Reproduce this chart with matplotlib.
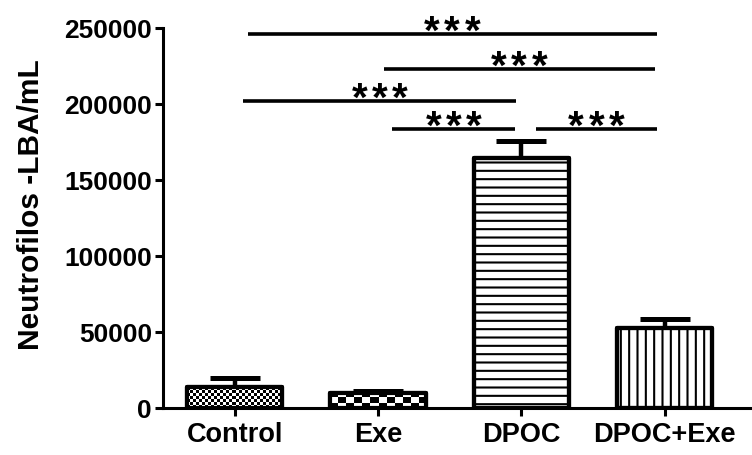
import numpy as np
import matplotlib
matplotlib.use("Agg")
import matplotlib.pyplot as plt

categories = ["Control", "Exe", "DPOC", "DPOC+Exe"]
means = [13500, 10000, 164500, 52500]
errors = [6000, 1500, 11000, 6000]
yticks = [0, 50000, 100000, 150000, 200000, 250000]
ylabel = "Neutrofilos -LBA/mL"

# significance brackets: (start group, end group, height, label)
sig_start = [0.09, 1.04, 0.06, 1.10, 2.10]
sig_end = [2.945, 2.93, 1.96, 1.955, 2.945]
sig_y = [246000, 223000, 202000, 183500, 183500]
sig_label = ["***", "***", "***", "***", "***"]

plt.rcParams['font.family'] = ['Liberation Sans', 'DejaVu Sans']
plt.rcParams['font.weight'] = 'bold'
plt.rcParams['hatch.linewidth'] = 1.5

fig = plt.figure(figsize=(7.52, 4.55), dpi=100)
ax = fig.add_axes([163/752, 1 - 408/455, (750-163)/752, (408-28)/455])
ax.set_xlim(-0.50, 3.595)
ax.set_ylim(0, 250000)

x = np.arange(len(categories))
width = 0.665

# error bars (behind bars, only upward)
ax.errorbar(x, means, yerr=[np.zeros(len(means)), errors], fmt='none',
            ecolor='black', elinewidth=3.2, capsize=18, capthick=3.6, zorder=1)

hatches = [None, None, '--', '||']
bars = ax.bar(x, means, width=width, color='white', edgecolor='black',
              linewidth=3, zorder=2)
for b, h in zip(bars, hatches):
    b.set_joinstyle('round')
    if h:
        b.set_hatch(h)

fig.canvas.draw()

def pattern_fill(bar, cell_w, cell_h):
    x0, y0 = bar.get_x(), 0
    x1, y1 = bar.get_x() + bar.get_width(), bar.get_height()
    (px0, py0), (px1, py1) = ax.transData.transform([(x0, y0), (x1, y1)])
    W = int(round(px1 - px0)); H = int(round(py1 - py0))
    jj, ii = np.meshgrid(np.arange(W), np.arange(H))  # ii from bottom
    arr = ((jj // cell_w + ii // cell_h) % 2).astype(float)
    arr = arr[::-1]  # top row first
    im = ax.imshow(arr, cmap='gray', vmin=0, vmax=1, extent=(x0, x1, y0, y1),
                   interpolation='nearest', aspect='auto', zorder=2.5)
    im.set_clip_path(bar)

pattern_fill(bars[0], 3, 3)
pattern_fill(bars[1], 8, 5)

# re-draw outlines on top
outl = ax.bar(x, means, width=width, color='none', edgecolor='black',
              linewidth=3, zorder=3)
for b in outl:
    b.set_joinstyle('round')

# significance lines with spaced asterisks
star_step = 14.5  # points between characters
for s, e, yy, lab in zip(sig_start, sig_end, sig_y, sig_label):
    ax.plot([s, e], [yy, yy], color='black', lw=2.6, solid_capstyle='butt',
            clip_on=False, zorder=4)
    n = len(lab)
    for i, ch in enumerate(lab):
        dx = (i - (n - 1) / 2) * star_step
        ax.annotate(ch, xy=((s + e) / 2, yy), xytext=(dx, -7),
                    textcoords='offset points', ha='center', va='baseline',
                    fontsize=29, fontweight='bold', annotation_clip=False)

ax.set_xticks(x)
ax.set_xticklabels(categories, fontsize=19.5, fontweight='bold')
ax.set_yticks(yticks)
ax.set_yticklabels([str(v) for v in yticks], fontsize=19, fontweight='bold')
ax.set_ylabel(ylabel, fontsize=21.5, fontweight='bold', labelpad=14, y=0.535)

for side in ['top', 'right']:
    ax.spines[side].set_visible(False)
for side in ['left', 'bottom']:
    ax.spines[side].set_linewidth(2.2)
ax.tick_params(axis='both', direction='out', length=6, width=2.2, pad=2)
ax.tick_params(axis='x', pad=4)

fig.savefig("out.png", dpi=100)
